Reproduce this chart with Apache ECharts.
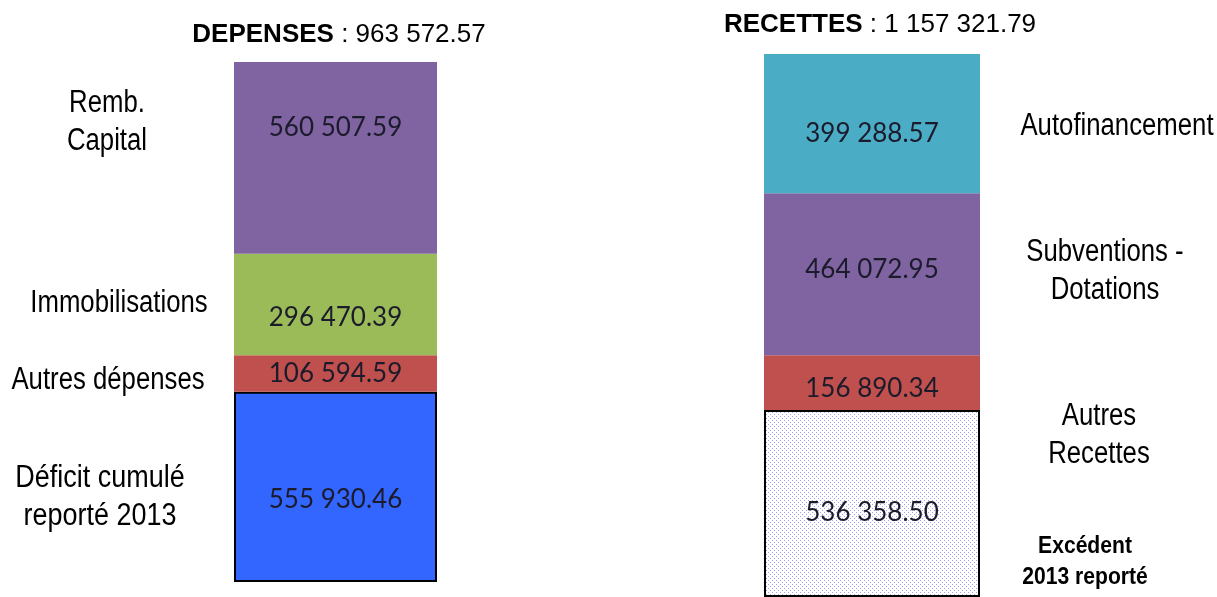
<!DOCTYPE html>
<html>
<head>
<meta charset="utf-8">
<script src="https://cdn.jsdelivr.net/npm/echarts@6/dist/echarts.min.js"></script>
<style>
html,body{margin:0;padding:0;background:#fff;}
#c{width:1217px;height:597px;}
</style>
</head>
<body>
<div id="c"></div>
<script>
// Data (bottom to top of each stack)
const depCategories = ['Déficit cumulé\nreporté 2013', 'Autres dépenses', 'Immobilisations', 'Remb.\nCapital'];
const depValues = [555930.46, 106594.59, 296470.39, 560507.59];
const recCategories = ['Excédent\n2013 reporté', 'Autres\nRecettes', 'Subventions -\nDotations', 'Autofinancement'];
const recValues = [536358.50, 156890.34, 464072.95, 399288.57];
const depTitle = ['DEPENSES', ' : 963 572.57'];
const recTitle = ['RECETTES', ' : 1 157 321.79'];

// pattern for excédent
const pat = document.createElement('canvas');
pat.width = 4; pat.height = 4;
const pc = pat.getContext('2d');
pc.fillStyle = '#ffffff'; pc.fillRect(0,0,4,4);
pc.fillStyle = '#a0a0ec';
pc.fillRect(0,0,1,1); pc.fillRect(2,2,1,1);

const depColors = ['#3366FF', '#C0504D', '#9BBB59', '#8064A2'];
const recColors = [{image: pat, repeat: 'repeat'}, '#C0504D', '#8064A2', '#4BACC6'];
const depBorder = [2, 0, 0, 0];
const recBorder = [2, 0, 0, 0];
const depLabelOffset = [13, 0, 13, -30];
const recLabelOffset = [9, 6, -5, 10];

function fmt(v) {
  const s = v.toFixed(2);
  const [i, d] = s.split('.');
  return i.replace(/\B(?=(\d{3})+(?!\d))/g, ' ') + '.' + d;
}
const sum = a => a.reduce((x, y) => x + y, 0);

const numFont = "Lato, 'Open Sans', sans-serif";
const catFont = "'Liberation Sans', Arial, sans-serif";

function makeSeries(values, names, colors, borders, offsets, idx) {
  return values.map((v, i) => ({
    type: 'bar',
    name: names[i],
    stack: 's' + idx,
    xAxisIndex: idx,
    yAxisIndex: idx,
    barWidth: '100%',
    data: [v],
    itemStyle: {color: colors[i], borderColor: '#000', borderWidth: borders[i]},
    label: {
      show: true, position: 'inside', offset: [0, offsets[i]],
      formatter: p => fmt(p.value),
      fontFamily: numFont, fontSize: 26, color: '#1b1b2b'
    },
    silent: true
  }));
}

const chart = echarts.init(document.getElementById('c'), null, {renderer: 'canvas'});

const catText = (txt, x, y, size, weight, sx, lh) => ({
  type: 'text', x: x, y: y, scaleX: sx || 0.83, originX: 0, originY: 0,
  style: {text: txt, fontFamily: catFont, fontSize: size || 31, fontWeight: weight || 'normal', fill: '#000', align: 'center', verticalAlign: 'middle', lineHeight: lh || 38}
});

const titleRich = {
  b: {fontFamily: "'Liberation Sans', Arial, sans-serif", fontWeight: 'bold', fontSize: 26, color: '#000'},
  r: {fontFamily: "'Liberation Sans', Arial, sans-serif", fontWeight: 'normal', fontSize: 26, color: '#000'}
};

chart.setOption({
  animation: false,
  title: [
    {text: '{b|' + depTitle[0] + '}{r|' + depTitle[1] + '}', left: 334, top: 30, textAlign: 'center', textVerticalAlign: 'middle',
     textStyle: {fontWeight: 'normal', rich: titleRich}},
    {text: '{b|' + recTitle[0] + '}{r|' + recTitle[1] + '}', left: 875, top: 20, textAlign: 'center', textVerticalAlign: 'middle',
     textStyle: {fontWeight: 'normal', rich: titleRich}}
  ],
  grid: [
    {left: 234, top: 62, width: 203, height: 520},
    {left: 764, top: 54, width: 216, height: 549}
  ],
  xAxis: [
    {type: 'category', gridIndex: 0, data: ['DEPENSES'], show: false},
    {type: 'category', gridIndex: 1, data: ['RECETTES'], show: false}
  ],
  yAxis: [
    {type: 'value', gridIndex: 0, min: 0, max: sum(depValues), show: false},
    {type: 'value', gridIndex: 1, min: 0, max: sum(recValues), show: false}
  ],
  series: [].concat(
    makeSeries(depValues, depCategories, depColors, depBorder, depLabelOffset, 0),
    makeSeries(recValues, recCategories, recColors, recBorder, recLabelOffset, 1)
  ),
  graphic: [
    catText(depCategories[3], 107, 122),
    catText(depCategories[2], 119, 303),
    catText(depCategories[1], 108, 380),
    catText(depCategories[0], 100, 497, 31, 'normal', 0.87),
    catText(recCategories[3], 1117, 126),
    catText(recCategories[2], 1105, 271),
    catText(recCategories[1], 1099, 435),
    catText(recCategories[0], 1085, 562, 24, 'bold', 0.88, 31)
  ]
});
</script>
</body>
</html>
